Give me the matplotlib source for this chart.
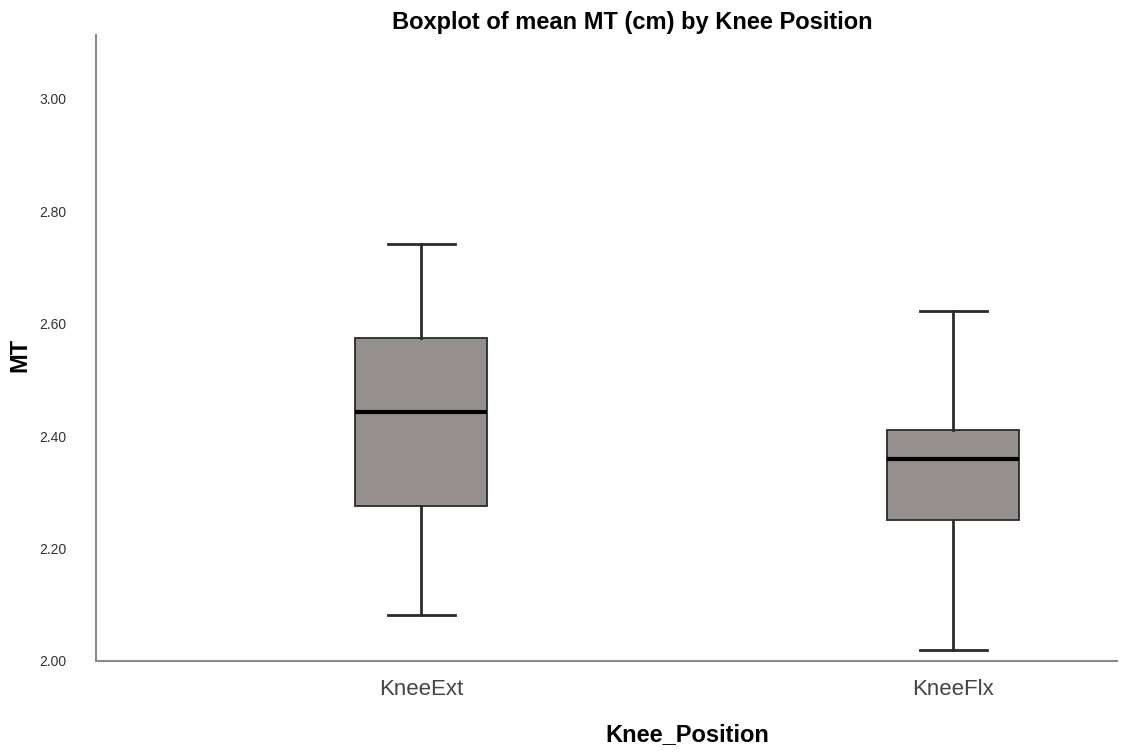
import matplotlib.pyplot as plt

# Box statistics
groups = ['KneeExt', 'KneeFlx']
whisker_low = [2.081, 2.020]
q1 = [2.276, 2.251]
median = [2.443, 2.360]
q3 = [2.575, 2.410]
whisker_high = [2.742, 2.622]

stats = []
for i, name in enumerate(groups):
    stats.append({
        'label': name,
        'whislo': whisker_low[i],
        'q1': q1[i],
        'med': median[i],
        'q3': q3[i],
        'whishi': whisker_high[i],
        'fliers': [],
    })

plt.rcParams['font.family'] = ['Liberation Sans', 'DejaVu Sans']

fig = plt.figure(figsize=(11.31, 7.54), dpi=100)
ax = fig.add_axes([96 / 1131, 1 - 661 / 754, (1117 - 96) / 1131, (661 - 35) / 754])

ax.bxp(stats, positions=[1, 2], widths=0.248, capwidths=0.126, patch_artist=True,
       showfliers=False,
       boxprops=dict(facecolor='#958f8d', edgecolor='#2b2b2b', linewidth=1.3),
       medianprops=dict(color='black', linewidth=3),
       whiskerprops=dict(color='#2b2b2b', linewidth=2),
       capprops=dict(color='#2b2b2b', linewidth=2))

ax.set_xlim(0.389, 2.308)
ax.set_ylim(2.0, 3.113)
ax.set_yticks([2.0, 2.2, 2.4, 2.6, 2.8, 3.0])
ax.set_yticklabels(['%.2f' % v for v in [2.0, 2.2, 2.4, 2.6, 2.8, 3.0]])
ax.tick_params(axis='y', length=0, pad=21, labelsize=10, labelcolor='#333333')
ax.tick_params(axis='x', length=0, pad=13, labelsize=16, labelcolor='#444444')

for side in ['top', 'right']:
    ax.spines[side].set_visible(False)
for side in ['left', 'bottom']:
    ax.spines[side].set_color('#8a8a8a')
    ax.spines[side].set_linewidth(1.5)

fig.text(632 / 1131, 1 - 22 / 754, 'Boxplot of mean MT (cm) by Knee Position',
         ha='center', va='center', fontsize=17, fontweight='bold')
fig.text(687 / 1131, 1 - 735 / 754, 'Knee_Position', ha='center', va='center',
         fontsize=17, fontweight='bold')
fig.text(20 / 1131, 1 - 355 / 754, 'MT', ha='center', va='center', rotation=90,
         fontsize=17, fontweight='bold')

fig.savefig('out.png', dpi=100)
